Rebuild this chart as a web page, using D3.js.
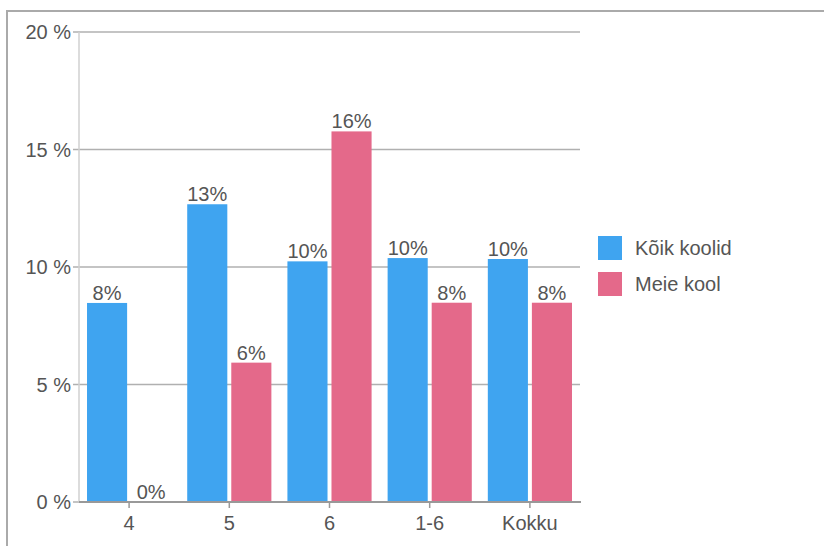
<!DOCTYPE html>
<html>
<head>
<meta charset=utf-8>
<title>Koolid</title>
<style>
body{margin: 0; background: #fff;}
svg text{font-family: "Liberation Sans", Arial, sans-serif; fill: #555;}
.grid line{stroke: #b0b0b0; stroke-width: 1.5;}
</style>
</head>
<body>
<div id=chart></div>
<script src='https://cdn.jsdelivr.net/npm/d3@7'></script>
<script>
//data
var categories = ['4', '5', '6', '1-6', 'Kokku'];
var seriesNames = ['Kõik koolid', 'Meie kool'];
var koikKoolid = [8.47, 12.67, 10.24, 10.38, 10.34];
var meieKool = [0, 5.93, 15.77, 8.48, 8.48];
var yTicks = [0, 5, 10, 15, 20];
var colors = ['#3fa4f0', '#e4698a'];

var W = 824, H = 546;
var margin = {top: 32, left: 79, right: 245, bottom: 45};
var width = 580 - margin.left;
var height = 502 - margin.top;

var svg = d3.select('#chart').append('svg')
    .attr('width', W)
    .attr('height', H);

//outer frame (only top and left edges show)
svg.append('line').attr('x1', 7).attr('x2', W).attr('y1', 11).attr('y2', 11)
    .attr('stroke', '#aaa').attr('stroke-width', 2);
svg.append('line').attr('x1', 7).attr('x2', 7).attr('y1', 10).attr('y2', H)
    .attr('stroke', '#aaa').attr('stroke-width', 2);

var chart = svg.append('g')
    .attr('transform', 'translate(' + margin.left + ',' + margin.top + ')');

var x0 = d3.scaleBand().domain(categories).range([0, width]).paddingInner(0.16).paddingOuter(0.08);
var x1 = d3.scaleBand().domain([0, 1]).range([0, x0.bandwidth()]).paddingInner(0.09);
var y = d3.scaleLinear().domain([0, 20]).range([height, 0]);

//gridlines
chart.append('g')
    .attr('class', 'grid')
  .selectAll('line')
    .data(yTicks)
  .enter().append('line')
    .attr('x1', -6)
    .attr('x2', width)
    .attr('y1', d => y(d))
    .attr('y2', d => y(d));

//left axis line
chart.append('line')
    .attr('x1', 0).attr('x2', 0)
    .attr('y1', 0).attr('y2', height)
    .attr('stroke', '#d0d0d0').attr('stroke-width', 1.5);

//y labels
chart.append('g')
  .selectAll('text')
    .data(yTicks)
  .enter().append('text')
    .attr('x', -8)
    .attr('y', d => y(d))
    .attr('dy', '0.35em')
    .attr('text-anchor', 'end')
    .style('font-size', '20px')
    .text(d => d + ' %');

//bars
var rows = categories.map((c, i) => ({cat: c, vals: [koikKoolid[i], meieKool[i]]}));
var groups = chart.append('g')
  .selectAll('g')
    .data(rows)
  .enter().append('g')
    .attr('transform', d => 'translate(' + x0(d.cat) + ',0)');

groups.selectAll('rect')
    .data(d => d.vals)
  .enter().append('rect')
    .attr('x', (d, i) => x1(i))
    .attr('y', d => y(d))
    .attr('width', x1.bandwidth())
    .attr('height', d => height - y(d))
    .attr('fill', (d, i) => colors[i]);

groups.selectAll('text')
    .data(d => d.vals)
  .enter().append('text')
    .attr('x', (d, i) => x1(i) + x1.bandwidth() / 2)
    .attr('y', d => y(d) - 3)
    .attr('text-anchor', 'middle')
    .style('font-size', '20px')
    .text(d => Math.round(d) + '%');

//bottom axis
chart.append('line')
    .attr('x1', 0).attr('x2', width + 1)
    .attr('y1', height).attr('y2', height)
    .attr('stroke', '#999').attr('stroke-width', 2);

var xAxis = chart.append('g');
xAxis.selectAll('line')
    .data(categories)
  .enter().append('line')
    .attr('x1', d => x0(d) + x0.bandwidth() / 2)
    .attr('x2', d => x0(d) + x0.bandwidth() / 2)
    .attr('y1', height).attr('y2', height + 6)
    .attr('stroke', '#999').attr('stroke-width', 1.5);
xAxis.selectAll('text')
    .data(categories)
  .enter().append('text')
    .attr('x', d => x0(d) + x0.bandwidth() / 2)
    .attr('y', height + 28)
    .attr('text-anchor', 'middle')
    .style('font-size', '20px')
    .text(d => d);

//legend
var legend = svg.append('g')
    .attr('transform', 'translate(598,236)');
var item = legend.selectAll('g')
    .data(seriesNames)
  .enter().append('g')
    .attr('transform', (d, i) => 'translate(0,' + i * 36 + ')');
item.append('rect')
    .attr('width', 24).attr('height', 24)
    .attr('fill', (d, i) => colors[i]);
item.append('text')
    .attr('x', 37)
    .attr('y', 12)
    .attr('dy', '0.35em')
    .style('font-size', '20px')
    .text(d => d);
</script>
</body>
</html>
